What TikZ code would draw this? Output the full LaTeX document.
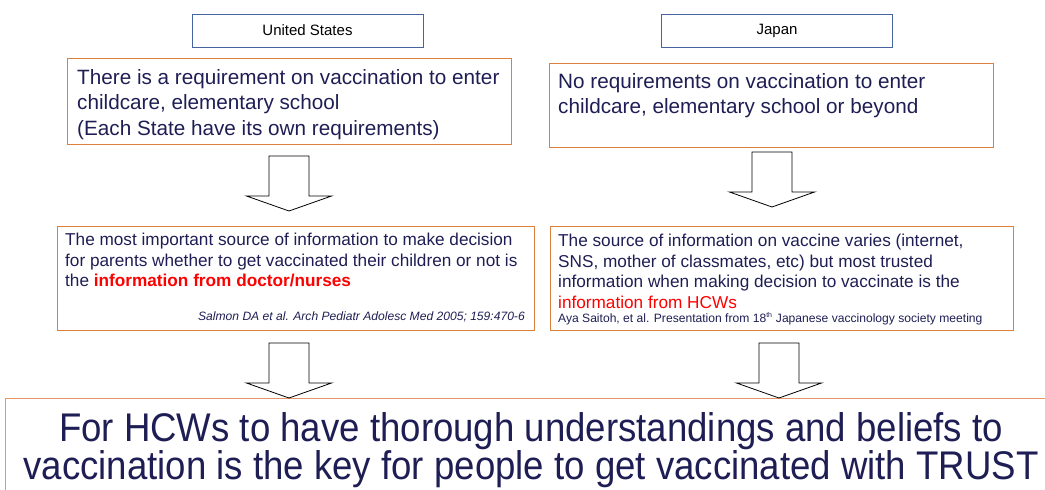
\documentclass[tikz,border=0pt]{standalone}
\usepackage{fontspec}
\setmainfont{Liberation Sans}
\usetikzlibrary{positioning}

\definecolor{navy}{RGB}{30,30,85}
\definecolor{boxorange}{RGB}{220,128,62}
\definecolor{lightorange}{RGB}{228,150,100}
\definecolor{labelblue}{RGB}{70,100,160}
\definecolor{hcwred}{RGB}{255,0,0}

% hollow block arrow hanging below a coordinate
\newcommand{\bigdownarrow}[1]{%
  \draw[blockarrow] (#1) ++(-20,0) -- ++(0,40) -- ++(-22.5,0) -- ++(42.5,15)
    -- ++(42.5,-15) -- ++(-22.5,0) -- ++(0,-40) -- cycle;}

\begin{document}
\begin{tikzpicture}[x=1pt, y=-1pt,
    every node/.style={inner sep=0pt, text=navy}, % plain text by default
    label box/.style={draw=labelblue, line width=0.9pt, minimum width=231pt, minimum height=33pt, text=black, font=\fontsize{15}{18}\selectfont},
    info box/.style={draw=boxorange, line width=1.2pt, anchor=north west},
    big text/.style={anchor=north west, align=left, font=\fontsize{20.7}{25.5}\selectfont},
    small text/.style={anchor=north west, align=left, font=\fontsize{17.2}{20.5}\selectfont},
    cite text/.style={font=\fontsize{12.1}{14}\selectfont},
    blockarrow/.style={draw=black, fill=white, line width=0.8pt, line join=miter}
    ]
    \clip (0,0) rectangle (1045,490);

    % country headers
    \node[label box] (us) at (307.5,30.5) {United States};
    \node[label box] (jp) at (777,31) {Japan};

    % requirements
    \node[info box, minimum width=444pt, minimum height=86pt] (usreq) at (67,58) {};
    \node[big text] (usreqtext) at ([shift={(10,11)}]usreq.north west)
        {There is a requirement on vaccination to enter\\
         childcare, elementary school\\
         (Each State have its own requirements)};
    \node[info box, minimum width=444pt, minimum height=84pt] (jpreq) at (549,63) {};
    \node[big text] (jpreqtext) at ([shift={(9,10)}]jpreq.north west)
        {No requirements on vaccination to enter\\
         childcare, elementary school or beyond};

    % sources of information
    \node[info box, minimum width=477pt, minimum height=104pt] (ussrc) at (57,226) {};
    \node[small text] (ussrctext) at ([shift={(8,7)}]ussrc.north west)
        {The most important source of information to make decision\\
         for parents whether to get vaccinated their children or not is\\
         the \textcolor{hcwred}{\textbf{information from doctor/nurses}}};
    \node[cite text, anchor=base east] (uscite) at (525,320)
        {\itshape Salmon DA et al. Arch Pediatr Adolesc Med 2005; 159:470-6};
    \node[info box, minimum width=463pt, minimum height=104pt] (jpsrc) at (550,226) {};
    \node[small text] (jpsrctext) at ([shift={(8,8)}]jpsrc.north west)
        {The source of information on vaccine varies (internet,\\
         SNS, mother of classmates, etc) but most trusted\\
         information when making decision to vaccinate is the\\
         \textcolor{hcwred}{information from HCWs}};
    \node[cite text, anchor=base west] (jpcite) at (558,322)
        {Aya Saitoh, et al. Presentation from 18\textsuperscript{\fontsize{7}{8}\selectfont th} Japanese vaccinology society meeting};

    % conclusion
    \node[draw=lightorange, line width=1.2pt, anchor=north west, minimum width=1052pt, minimum height=110pt] (trust) at (5,398) {};
    \node[anchor=north, align=center, font=\fontsize{40}{36}\selectfont] (trusttext) at (531,412.5)
        {\scalebox{0.915}[1]{For HCWs to have thorough understandings and beliefs to}\\
         \scalebox{0.915}[1]{vaccination is the key for people to get vaccinated with TRUST}};

    % block arrows
    \coordinate (usarrowa) at (289,156);
    \coordinate (jparrowa) at (772,152);
    \coordinate (usarrowb) at (289,343);
    \coordinate (jparrowb) at (779,343);
    \bigdownarrow{usarrowa}
    \bigdownarrow{jparrowa}
    \bigdownarrow{usarrowb}
    \bigdownarrow{jparrowb}
\end{tikzpicture}
\end{document}
